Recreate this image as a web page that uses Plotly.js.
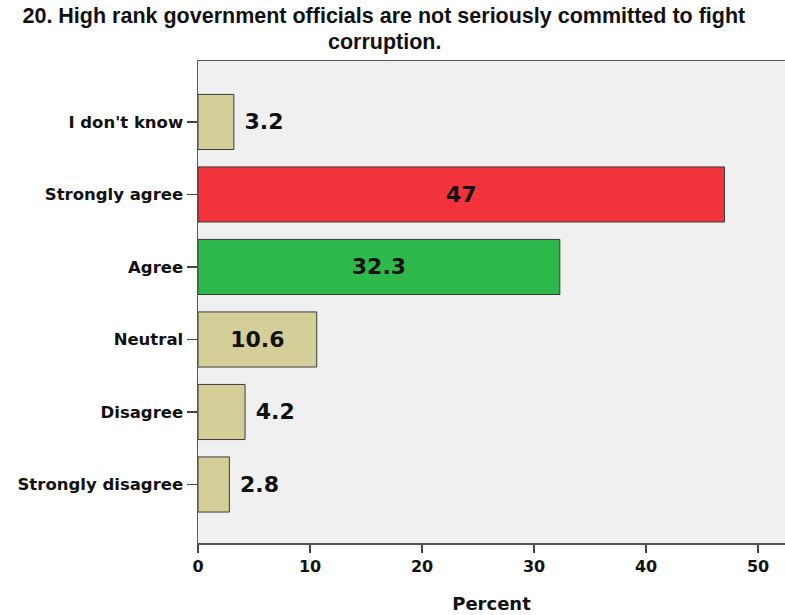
<!DOCTYPE html>
<html>
<head>
<meta charset="utf-8">
<script src="https://cdn.plot.ly/plotly-3.0.1.min.js"></script>
<style>html,body{margin:0;padding:0;background:#fff;}#chart{width:785px;height:615px;}</style>
</head>
<body>
<div id="chart"></div>
<script>
var categories = ["Strongly disagree", "Disagree", "Neutral", "Agree", "Strongly agree", "I don't know"];
var percents = [2.8, 4.2, 10.6, 32.3, 47, 3.2];
var barColors = ["#D4CF99", "#D4CF99", "#D4CF99", "#2FB84B", "#F2333C", "#D4CF99"];
var labelPositions = ["outside", "outside", "inside", "inside", "inside", "outside"];
var xTicks = [0, 10, 20, 30, 40, 50];
var titleLine1 = "20. High rank government officials are not seriously committed to fight";
var titleLine2 = "corruption.";

var trace = {
  type: "bar",
  orientation: "h",
  y: categories,
  x: percents,
  width: 0.76,
  marker: {color: barColors, line: {color: "#3a3a3a", width: 1}},
  text: percents.map(function (v, i) { return (labelPositions[i] === "outside" ? "\u00a0" : "") + String(v); }),
  textposition: labelPositions,
  insidetextanchor: "middle",
  textfont: {family: "DejaVu Sans", size: 22, color: "#111", weight: "bold"},
  cliponaxis: false,
  hoverinfo: "none"
};

var titleFont = {family: "Liberation Sans", size: 21.5, color: "#111", weight: "bold"};

var layout = {
  width: 785,
  height: 615,
  margin: {l: 198, r: 0, t: 61, b: 72},
  paper_bgcolor: "#ffffff",
  plot_bgcolor: "#F0F0F0",
  showlegend: false,
  title: {
    text: titleLine1,
    font: titleFont,
    x: 0.489, xanchor: "center", xref: "container",
    y: 0.9745, yanchor: "middle", yref: "container"
  },
  annotations: [{
    text: titleLine2,
    font: titleFont,
    xref: "paper", yref: "paper",
    x: 0.317, xanchor: "center",
    y: 1.0394, yanchor: "middle",
    showarrow: false
  }],
  xaxis: {
    range: [0, 52.4],
    tickvals: xTicks,
    ticktext: xTicks.map(String),
    ticks: "outside",
    ticklen: 8,
    tickwidth: 1.5,
    tickcolor: "#444",
    showgrid: false,
    zeroline: false,
    showline: true,
    linecolor: "#555",
    linewidth: 1.5,
    mirror: true,
    tickfont: {family: "DejaVu Sans", size: 16, color: "#111", weight: "bold"},
    title: {text: "Percent", font: {family: "DejaVu Sans", size: 18, color: "#111", weight: "bold"}, standoff: 22}
  },
  yaxis: {
    type: "category",
    range: [-0.807, 5.841],
    ticks: "outside",
    ticklen: 10,
    tickwidth: 1.5,
    tickcolor: "#444",
    showgrid: false,
    zeroline: false,
    showline: true,
    linecolor: "#555",
    linewidth: 1.5,
    mirror: false,
    tickfont: {family: "DejaVu Sans", size: 16.5, color: "#111", weight: "bold"}
  }
};

Plotly.newPlot("chart", [trace], layout, {displayModeBar: false, staticPlot: true});
</script>
</body>
</html>
